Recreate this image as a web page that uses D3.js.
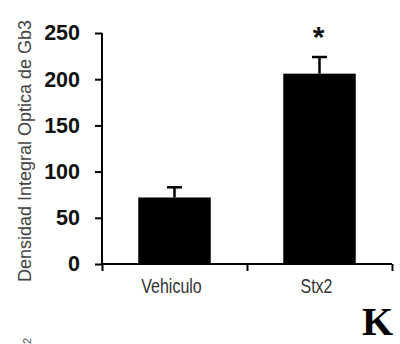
<!DOCTYPE html>
<html>
  <head>
    <meta charset="utf-8">
    <title>Gb3</title>
    <script src="https://d3js.org/d3.v7.min.js"></script>
    <style>
      body { margin: 0; background: #fff; }
    </style>
  </head>
  <body>
    <svg width="400" height="344"></svg>

    <script>
      // data
      const categories = ["Vehiculo", "Stx2"];
      const means = [72, 206];
      const errors = [11, 18];
      const yTicks = [0, 50, 100, 150, 200, 250];
      const yLabel = "Densidad Integral Optica de Gb3";

      const svg = d3.select("svg");
      const plotLeft = 102, plotRight = 392, plotTop = 33, plotBottom = 264;

      const x = d3.scaleBand()
        .domain(categories)
        .range([plotLeft, plotRight])
        .paddingInner(0.5)
        .paddingOuter(0.25);

      const y = d3.scaleLinear()
        .domain([0, 250])
        .range([plotBottom, plotTop]);

      // bars
      svg.selectAll("rect.bar")
        .data(categories)
        .enter()
        .append("rect")
          .attr("class", "bar")
          .attr("x", d => x(d))
          .attr("width", x.bandwidth())
          .attr("y", (d, i) => y(means[i]))
          .attr("height", (d, i) => y(0) - y(means[i]))
          .attr("fill", "#000");

      // error bars (upper only)
      const err = svg.selectAll("g.err")
        .data(categories)
        .enter()
        .append("g");
      err.append("line")
        .attr("x1", d => x(d) + x.bandwidth() / 2)
        .attr("x2", d => x(d) + x.bandwidth() / 2)
        .attr("y1", (d, i) => y(means[i]))
        .attr("y2", (d, i) => y(means[i] + errors[i]))
        .attr("stroke", "#000")
        .attr("stroke-width", 2.5);
      err.append("line")
        .attr("x1", d => x(d) + x.bandwidth() / 2 - 7.5)
        .attr("x2", d => x(d) + x.bandwidth() / 2 + 7.5)
        .attr("y1", (d, i) => y(means[i] + errors[i]))
        .attr("y2", (d, i) => y(means[i] + errors[i]))
        .attr("stroke", "#000")
        .attr("stroke-width", 2.5);

      // y axis
      const yAxis = svg.append("g")
        .attr("transform", `translate(${plotLeft},0)`)
        .call(d3.axisLeft(y).tickValues(yTicks).tickSize(7).tickPadding(15));
      yAxis.select(".domain").attr("stroke-width", 2).attr("d", `M0,${plotTop}V${plotBottom}`);
      yAxis.selectAll(".tick line").attr("stroke-width", 2);
      yAxis.selectAll(".tick text")
        .attr("font-family", "Liberation Sans, Arial, sans-serif")
        .attr("font-weight", "bold")
        .attr("font-size", 21.5)
        .attr("fill", "#111");

      // x axis: ticks at category boundaries
      const xb = d3.scaleLinear().domain([0, categories.length]).range([plotLeft, plotRight]);
      const xAxis = svg.append("g")
        .attr("transform", `translate(0,${plotBottom})`)
        .call(d3.axisBottom(xb).ticks(categories.length).tickSize(7).tickFormat(""));
      xAxis.select(".domain").attr("stroke-width", 2).attr("d", `M${plotLeft},0H${plotRight}`);
      xAxis.selectAll(".tick line").attr("stroke-width", 2);

      // category labels (condensed look)
      svg.selectAll("text.cat")
        .data(categories)
        .enter()
        .append("text")
          .attr("class", "cat")
          .attr("transform", d => `translate(${x(d) + x.bandwidth() / 2 - 3},293) scale(0.82,1)`)
          .attr("text-anchor", "middle")
          .attr("font-family", "Liberation Sans, Arial, sans-serif")
          .attr("font-size", 19.5)
          .attr("fill", "#333")
          .text(d => d);

      // significance star
      svg.append("text")
        .attr("x", x("Stx2") + x.bandwidth() / 2 - 1)
        .attr("y", 47)
        .attr("text-anchor", "middle")
        .attr("font-family", "Liberation Sans, Arial, sans-serif")
        .attr("font-weight", "bold")
        .attr("font-size", 30)
        .attr("fill", "#111")
        .text("*");

      // y title
      svg.append("text")
        .attr("transform", `translate(31,${(20 + 282) / 2}) rotate(-90)`)
        .attr("text-anchor", "middle")
        .attr("font-family", "Liberation Sans, Arial, sans-serif")
        .attr("font-size", 18)
        .attr("textLength", 262)
        .attr("lengthAdjust", "spacingAndGlyphs")
        .attr("fill", "#444")
        .text(yLabel);

      // panel letter
      svg.append("text")
        .attr("x", 362)
        .attr("y", 335)
        .attr("font-family", "Liberation Serif, Times New Roman, serif")
        .attr("font-weight", "bold")
        .attr("font-size", 40)
        .attr("fill", "#000")
        .text("K");

      // cut-off fragment of a neighbouring label
      svg.append("text")
        .attr("transform", "translate(31,344) rotate(-90)")
        .attr("font-family", "Liberation Sans, Arial, sans-serif")
        .attr("font-size", 11)
        .attr("fill", "#555")
        .text("2");
    </script>
  </body>
</html>
